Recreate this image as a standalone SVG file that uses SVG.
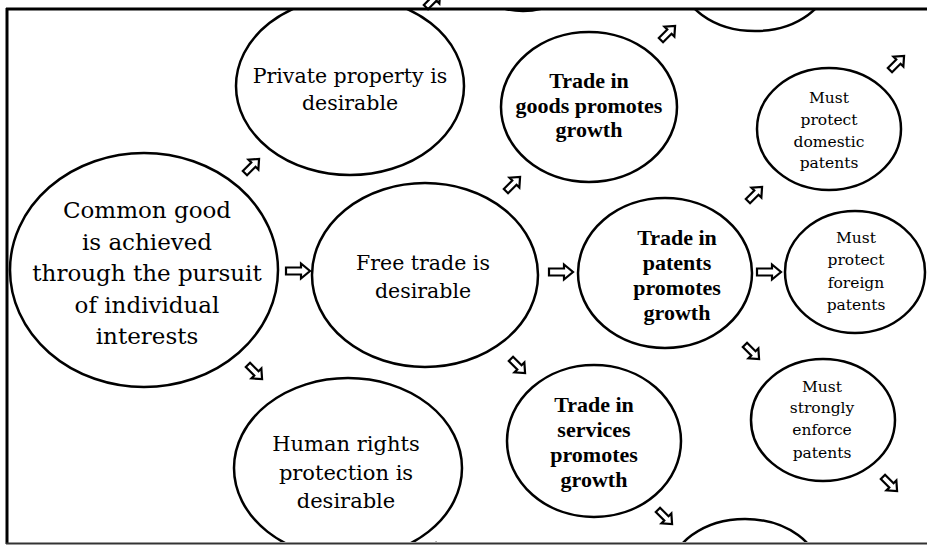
<svg xmlns="http://www.w3.org/2000/svg" xmlns:xlink="http://www.w3.org/1999/xlink" width="927" height="545" viewBox="0 0 927 545">
<style>
.n{fill:#fff;stroke:#000;stroke-width:2.5}
.r{font-family:"DejaVu Serif","Liberation Serif",serif;fill:#000;text-anchor:middle}
.b{font-family:"Liberation Serif","DejaVu Serif",serif;font-weight:bold;font-size:22px;fill:#000;text-anchor:middle}
.s{font-size:15.5px}
.a{fill:#fff;stroke:#000;stroke-width:2.2;stroke-linejoin:miter}
</style>
<defs>
<clipPath id="frame"><rect x="8" y="10" width="919" height="532"/></clipPath>
<path id="arr" class="a" d="M-12,-3.5 H3 V-7.5 L12,0 L3,7.5 V3.5 H-12 Z"/>
<path id="darr" class="a" d="M-10,-3 H2 V-7 L10,0 L2,7 V3 H-10 Z"/>
</defs>
<rect width="927" height="545" fill="#fff"/>
<g clip-path="url(#frame)">
<g id="connectors">
<use xlink:href="#darr" transform="translate(252,166) rotate(-45)"/>
<use xlink:href="#arr" transform="translate(298,271)"/>
<use xlink:href="#darr" transform="translate(255,372) rotate(45)"/>
<use xlink:href="#darr" transform="translate(513,184) rotate(-45)"/>
<use xlink:href="#arr" transform="translate(561,272)"/>
<use xlink:href="#darr" transform="translate(518,366) rotate(45)"/>
<use xlink:href="#darr" transform="translate(668,33) rotate(-45)"/>
<use xlink:href="#darr" transform="translate(755,194) rotate(-45)"/>
<use xlink:href="#arr" transform="translate(769,272)"/>
<use xlink:href="#darr" transform="translate(752,352) rotate(45)"/>
<use xlink:href="#darr" transform="translate(897,63) rotate(-45)"/>
<use xlink:href="#darr" transform="translate(665,517) rotate(45)"/>
<use xlink:href="#darr" transform="translate(890,484) rotate(45)"/>
<use xlink:href="#darr" transform="translate(441,552) rotate(45)"/>
</g>
<g id="top-partial-a"><ellipse class="n" cx="523" cy="-60" rx="70" ry="71"/></g>
<g id="top-partial-b"><ellipse class="n" cx="755" cy="-24" rx="75" ry="55"/></g>
<g id="bottom-partial"><ellipse class="n" cx="745" cy="574" rx="75" ry="55"/></g>
<g id="common-good">
<ellipse class="n" cx="144" cy="270" rx="134" ry="117"/>
<text class="r" font-size="23" x="147"><tspan x="147" y="218">Common good</tspan><tspan x="147" y="250">is achieved</tspan><tspan x="147" y="281">through the pursuit</tspan><tspan x="147" y="313">of individual</tspan><tspan x="147" y="344">interests</tspan></text>
</g>
<g id="private-property">
<ellipse class="n" cx="350" cy="86" rx="114" ry="89"/>
<text class="r" font-size="20.5"><tspan x="350" y="83">Private property is</tspan><tspan x="350" y="110">desirable</tspan></text>
</g>
<g id="free-trade">
<ellipse class="n" cx="425" cy="275" rx="113" ry="92"/>
<text class="r" font-size="20.5"><tspan x="423" y="270">Free trade is</tspan><tspan x="423" y="298">desirable</tspan></text>
</g>
<g id="human-rights">
<ellipse class="n" cx="348" cy="468" rx="114" ry="90"/>
<text class="r" font-size="21"><tspan x="346" y="451">Human rights</tspan><tspan x="346" y="480">protection is</tspan><tspan x="346" y="508">desirable</tspan></text>
</g>
<g id="trade-goods">
<ellipse class="n" cx="589" cy="107" rx="88" ry="75"/>
<text class="b"><tspan x="589" y="88">Trade in</tspan><tspan x="589" y="113">goods promotes</tspan><tspan x="589" y="137">growth</tspan></text>
</g>
<g id="trade-patents">
<ellipse class="n" cx="665" cy="273" rx="87" ry="75"/>
<text class="b"><tspan x="677" y="245">Trade in</tspan><tspan x="677" y="270">patents</tspan><tspan x="677" y="295">promotes</tspan><tspan x="677" y="320">growth</tspan></text>
</g>
<g id="trade-services">
<ellipse class="n" cx="594" cy="441" rx="87" ry="76"/>
<text class="b"><tspan x="594" y="412">Trade in</tspan><tspan x="594" y="437">services</tspan><tspan x="594" y="462">promotes</tspan><tspan x="594" y="487">growth</tspan></text>
</g>
<g id="domestic-patents">
<ellipse class="n" cx="829" cy="129" rx="72" ry="61"/>
<text class="r s"><tspan x="829" y="103">Must</tspan><tspan x="829" y="125">protect</tspan><tspan x="829" y="147">domestic</tspan><tspan x="829" y="168">patents</tspan></text>
</g>
<g id="foreign-patents">
<ellipse class="n" cx="855" cy="272" rx="70" ry="61"/>
<text class="r s"><tspan x="856" y="243">Must</tspan><tspan x="856" y="265">protect</tspan><tspan x="856" y="288">foreign</tspan><tspan x="856" y="310">patents</tspan></text>
</g>
<g id="enforce-patents">
<ellipse class="n" cx="823" cy="420" rx="72" ry="61"/>
<text class="r s"><tspan x="822" y="392">Must</tspan><tspan x="822" y="413">strongly</tspan><tspan x="822" y="435">enforce</tspan><tspan x="822" y="458">patents</tspan></text>
</g>
</g>
<use xlink:href="#darr" transform="translate(433,0) rotate(-45)"/>
<g id="frame-lines" fill="none">
<path d="M6,9 H927" stroke="#000" stroke-width="3"/>
<path d="M7,8 V544" stroke="#000" stroke-width="3"/>
<path d="M6,543.5 H927" stroke="#333" stroke-width="2"/>
</g>
</svg>
